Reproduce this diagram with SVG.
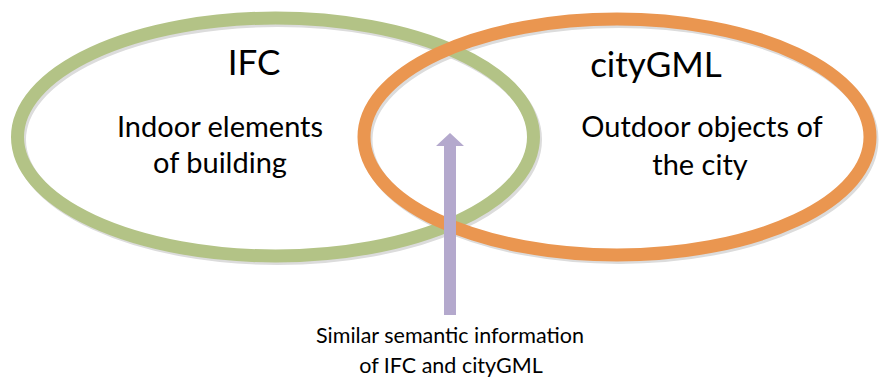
<svg xmlns="http://www.w3.org/2000/svg" width="880" height="381" viewBox="0 0 880 381">
  <style>
    text { font-family: Lato, "Liberation Sans", sans-serif; fill: #000; text-anchor: middle; }
    .title { font-size: 35px; }
    .body { font-size: 29px; }
    .note { font-size: 21.5px; }
    .shadow { fill: none; stroke: #dcdcdc; stroke-width: 13; }
  </style>
  <rect width="880" height="381" fill="#fff"/>
  <g id="shadows">
    <ellipse class="shadow" cx="277.5" cy="139.5" rx="258" ry="119"/>
    <ellipse class="shadow" cx="619" cy="139.5" rx="253" ry="118"/>
  </g>
  <g id="ifc">
    <ellipse cx="275.5" cy="137" rx="258" ry="119" fill="none" stroke="#B3C386" stroke-width="13"/>
    <text class="title" x="254" y="75">IFC</text>
    <text class="body" x="220" y="137">Indoor elements</text>
    <text class="body" x="220" y="173">of building</text>
  </g>
  <g id="citygml">
    <ellipse cx="617" cy="137" rx="253" ry="118" fill="none" stroke="#EA9650" stroke-width="13"/>
    <text class="title" x="656" y="77">cityGML</text>
    <text class="body" x="702" y="137">Outdoor objects of</text>
    <text class="body" x="700" y="175">the city</text>
  </g>
  <g id="connectors">
    <polygon points="450,133 464,146 456,146 456,315 444,315 444,146 436,146" fill="#B4A9CD"/>
  </g>
  <g id="note">
    <text class="note" x="450" y="343">Similar semantic information</text>
    <text class="note" x="451" y="373">of IFC and cityGML</text>
  </g>
</svg>
